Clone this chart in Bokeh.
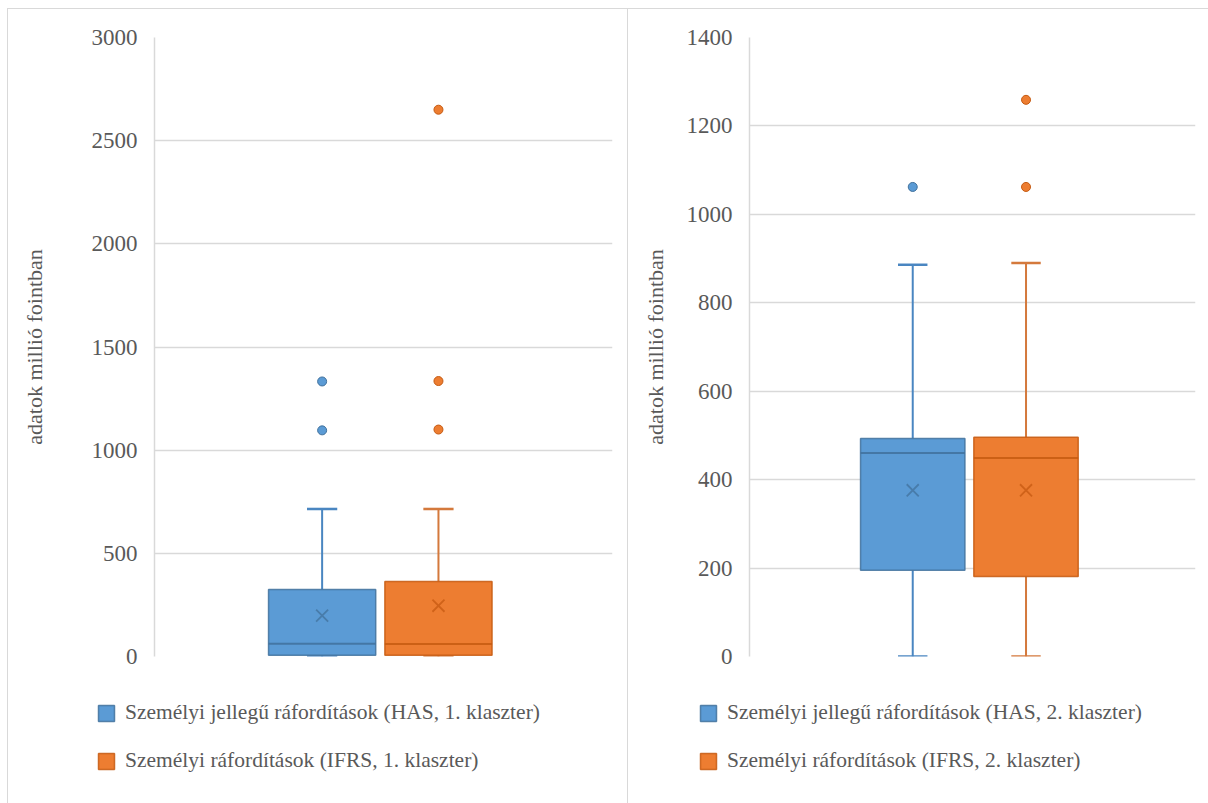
import numpy as np
from bokeh.plotting import figure
from bokeh.layouts import row, column
from bokeh.models import Range1d, FixedTicker, Legend, LegendItem
from bokeh.embed import file_html
from bokeh.resources import INLINE

# ---------------- data ----------------
labels_1 = ["Személyi jellegű ráfordítások (HAS, 1. klaszter)",
            "Személyi ráfordítások (IFRS, 1. klaszter)"]
lower_1 = [0, 0]
q1_1 = [6, 6]
median_1 = [62, 60]
q3_1 = [325, 364]
upper_1 = [715, 715]
mean_1 = [198, 246]
outliers_1 = [[1333, 1096], [2650, 1335, 1100]]
ticks_1 = [0, 500, 1000, 1500, 2000, 2500, 3000]

labels_2 = ["Személyi jellegű ráfordítások (HAS, 2. klaszter)",
            "Személyi ráfordítások (IFRS, 2. klaszter)"]
lower_2 = [0, 0]
q1_2 = [195, 181]
median_2 = [460, 449]
q3_2 = [493, 496]
upper_2 = [886, 890]
mean_2 = [376, 376]
outliers_2 = [[1062], [1259, 1062]]
ticks_2 = [0, 200, 400, 600, 800, 1000, 1200, 1400]

y_title = "adatok millió fointban"

# ---------------- styles ----------------
FILL = ["#5B9BD5", "#ED7D31"]
EDGE = ["#41719C", "#C55A11"]
WHISK = ["#4A86C1", "#D4793C"]
CENTERS = [0.366, 0.62]
BOX_W = 0.234
CAP_W = 0.066
FONT = "Liberation Serif"
TXT = "#595959"
GRID = "#D9D9D9"
BORDER = "1px solid #D9D9D9"
NAN = float("nan")


def make_panel(labels, lower, q1, med, q3, upper, mean, outl, ticks, ymax,
               width, border_left, border_right, title_standoff, legend_x, side_borders):
    p = figure(width=width, height=667, output_backend="svg", toolbar_location=None,
               x_range=Range1d(0, 1), y_range=Range1d(0, ymax), x_axis_type=None,
               min_border_left=border_left, min_border_right=border_right,
               min_border_top=28, min_border_bottom=20)
    p.outline_line_color = None
    p.xgrid.visible = False
    p.ygrid.grid_line_color = GRID
    p.ygrid.grid_line_width = 1.5
    p.yaxis.ticker = FixedTicker(ticks=ticks)
    p.yaxis.minor_tick_line_color = None
    p.yaxis.major_tick_line_color = None
    p.yaxis.major_tick_out = 0
    p.yaxis.major_tick_in = 0
    p.yaxis.major_label_standoff = 17
    p.yaxis.axis_line_color = GRID
    p.yaxis.axis_line_width = 1.5
    p.yaxis.major_label_text_font = FONT
    p.yaxis.major_label_text_font_size = "23px"
    p.yaxis.major_label_text_color = TXT
    p.yaxis.axis_label = y_title
    p.yaxis.axis_label_text_font = FONT
    p.yaxis.axis_label_text_font_size = "22px"
    p.yaxis.axis_label_text_font_style = "normal"
    p.yaxis.axis_label_text_color = TXT
    p.yaxis.axis_label_standoff = title_standoff

    # legend-only figure below the plot
    lg = figure(width=width, height=128, output_backend="svg", toolbar_location=None,
                x_axis_type=None, y_axis_type=None,
                x_range=Range1d(0, 1), y_range=Range1d(0, 1),
                min_border_left=0, min_border_right=0, min_border_top=0,
                min_border_bottom=0)
    lg.outline_line_color = None
    lg.xgrid.visible = False
    lg.ygrid.visible = False

    items = []
    for i in range(2):
        c = CENTERS[i]
        # whiskers
        p.segment(x0=[c, c], y0=[q3[i], q1[i]], x1=[c, c], y1=[upper[i], lower[i]],
                  line_color=WHISK[i], line_width=2)
        p.segment(x0=[c - CAP_W / 2] * 2, y0=[upper[i], lower[i]],
                  x1=[c + CAP_W / 2] * 2, y1=[upper[i], lower[i]],
                  line_color=WHISK[i], line_width=2.5)
        # box
        p.vbar(x=[c], width=BOX_W, bottom=[q1[i]], top=[q3[i]],
               fill_color=FILL[i], line_color=EDGE[i], line_width=1.5,
               line_alpha=0.85)
        # median
        p.segment(x0=[c - BOX_W / 2], y0=[med[i]], x1=[c + BOX_W / 2], y1=[med[i]],
                  line_color=EDGE[i], line_width=2, line_alpha=0.85)
        # mean
        p.scatter(x=[c], y=[mean[i]], marker="x", size=17, line_color=EDGE[i],
                  line_width=1.8, line_alpha=0.75)
        # outliers
        p.scatter(x=[c] * len(outl[i]), y=outl[i], marker="circle", size=9,
                  fill_color=FILL[i], line_color=EDGE[i], line_width=1)
        # legend swatch renderer (NaN extent: not drawn in the frame)
        sw = lg.vbar(x=[0.5], width=0.1, bottom=[NAN], top=[NAN], fill_color=FILL[i],
                     line_color=EDGE[i], line_width=1.5, line_alpha=0.85)
        items.append(LegendItem(label=labels[i], renderers=[sw]))

    legend = Legend(items=items, location=(legend_x, 30), orientation="vertical",
                    glyph_width=20, glyph_height=20, label_height=20, spacing=23,
                    padding=0, margin=0, label_standoff=9,
                    border_line_color=None, background_fill_alpha=0,
                    label_text_font=FONT, label_text_font_size="21.5px",
                    label_text_color=TXT)
    lg.add_layout(legend)

    if side_borders:
        p.styles = {"border-top": BORDER, "border-left": BORDER, "border-right": BORDER,
                    "box-sizing": "border-box"}
        lg.styles = {"border-left": BORDER, "border-right": BORDER,
                     "box-sizing": "border-box"}
    else:
        p.styles = {"border-top": BORDER, "box-sizing": "border-box"}
    return column(p, row(lg, spacing=0), spacing=0)


c1 = make_panel(labels_1, lower_1, q1_1, median_1, q3_1, upper_1, mean_1, outliers_1,
                ticks_1, 3000, 621, 146, 17, 42, 88, True)
c2 = make_panel(labels_2, lower_2, q1_2, median_2, q3_2, upper_2, mean_2, outliers_2,
                ticks_2, 1400, 580, 121, 13, 16, 70, False)

layout = row(c1, c2, spacing=0)
layout.margin = (8, 0, 0, 7)
open("out.html", "w").write(file_html(layout, INLINE))
